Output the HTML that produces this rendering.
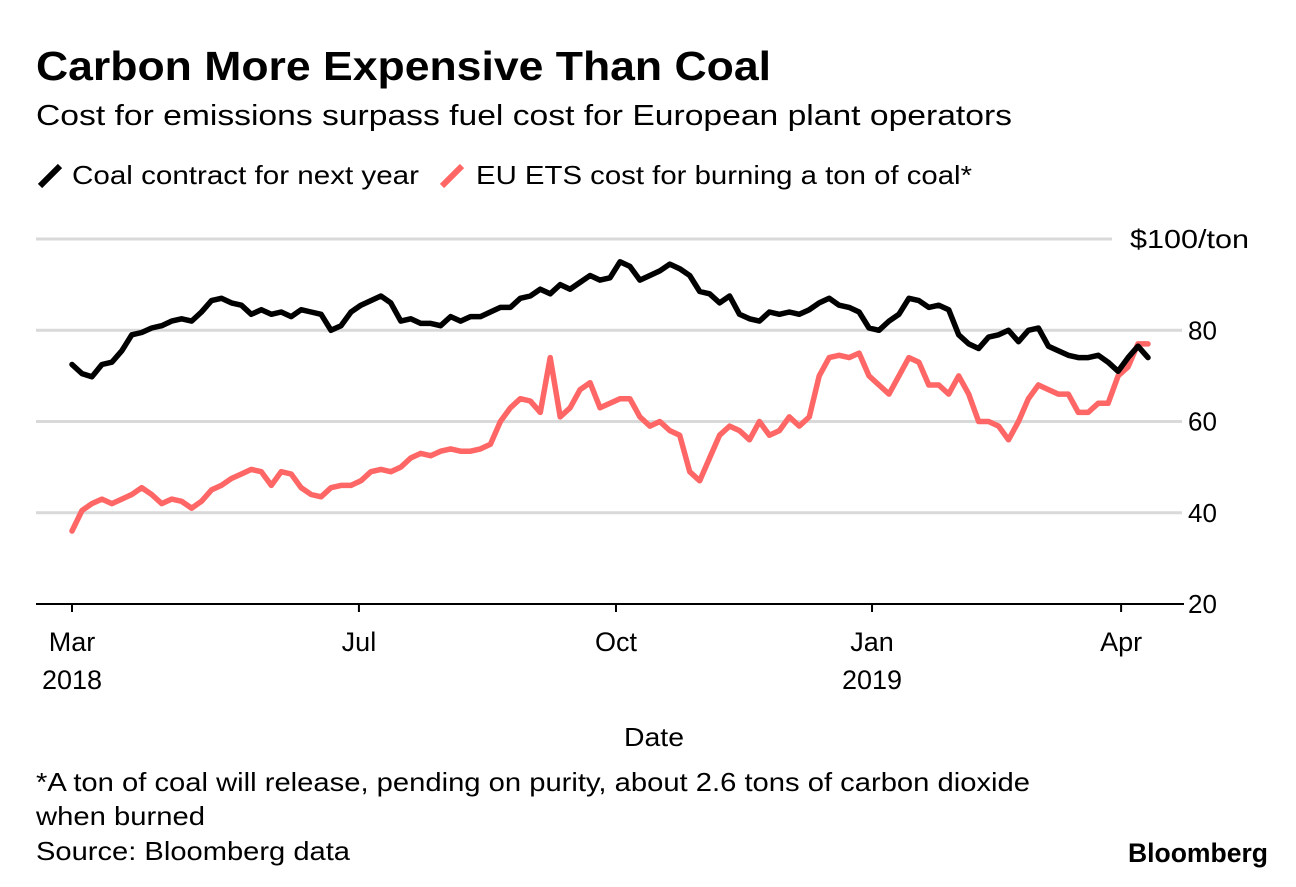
<!DOCTYPE html>
<html><head><meta charset="utf-8"><style>
body{margin:0;background:#fff;font-family:"Liberation Sans",Arial,sans-serif;}
svg text{font-family:"Liberation Sans",Arial,sans-serif;}
</style></head><body>
<svg width="1296" height="882" viewBox="0 0 1296 882">
<text x="36" y="80" font-size="41" font-weight="bold" fill="#000" textLength="735" lengthAdjust="spacingAndGlyphs">Carbon More Expensive Than Coal</text>
<text x="36" y="125" font-size="29" fill="#000" textLength="976" lengthAdjust="spacingAndGlyphs">Cost for emissions surpass fuel cost for European plant operators</text>
<g>
<line x1="40" y1="186" x2="60" y2="166" stroke="#000" stroke-width="6"/>
<text x="72" y="184" font-size="26" textLength="347" lengthAdjust="spacingAndGlyphs">Coal contract for next year</text>
<line x1="442" y1="186" x2="462" y2="166" stroke="#ff6666" stroke-width="6"/>
<text x="476" y="184" font-size="26" textLength="496" lengthAdjust="spacingAndGlyphs">EU ETS cost for burning a ton of coal*</text>
</g>
<g id="grid"></g><g id="ticks"></g><g id="series"></g>
<text x="624" y="746" font-size="26" textLength="60" lengthAdjust="spacingAndGlyphs">Date</text>
<text x="36" y="791" font-size="26" textLength="994" lengthAdjust="spacingAndGlyphs">*A ton of coal will release, pending on purity, about 2.6 tons of carbon dioxide</text>
<text x="36" y="825" font-size="26" textLength="169" lengthAdjust="spacingAndGlyphs">when burned</text>
<text x="36" y="860" font-size="26" textLength="314" lengthAdjust="spacingAndGlyphs">Source: Bloomberg data</text>
<text x="1128" y="862" font-size="27" font-weight="bold" textLength="140" lengthAdjust="spacingAndGlyphs">Bloomberg</text>
</svg>
<script>
const yTicks=[20,40,60,80,100];
const yTickLabels=["20","40","60","80","$100/ton"];
const xTickIdx=[0,28.8,54.6,80.3,105.3];
const xTickLabels=["Mar","Jul","Oct","Jan","Apr"];
const xTickYears=["2018","","","2019",""];
const coal=[72.5,70.5,69.8,72.5,73,75.5,79,79.5,80.5,81,82,82.5,82,84,86.5,87,86,85.5,83.5,84.5,83.5,84,83,84.5,84,83.5,80,81,84,85.5,86.5,87.5,86,82,82.5,81.5,81.5,81,83,82,83,83,84,85,85,87,87.5,89,88,90,89,90.5,92,91,91.5,95,94,91,92,93,94.5,93.5,92,88.5,88,86,87.5,83.5,82.5,82,84,83.5,84,83.5,84.5,86,87,85.5,85,84,80.5,80,82,83.5,87,86.5,85,85.5,84.5,79,77,76,78.5,79,80,77.5,80,80.5,76.5,75.5,74.5,74,74,74.5,73,71,74,76.5,74];
const ets=[36,40.5,42,43,42,43,44,45.5,44,42,43,42.5,41,42.5,45,46,47.5,48.5,49.5,49,46,49,48.5,45.5,44,43.5,45.5,46,46,47,49,49.5,49,50,52,53,52.5,53.5,54,53.5,53.5,54,55,60,63,65,64.5,62,74,61,63,67,68.5,63,64,65,65,61,59,60,58,57,49,47,52,57,59,58,56,60,57,58,61,59,61,70,74,74.5,74,75,70,68,66,70,74,73,68,68,66,70,66,60,60,59,56,60,65,68,67,66,66,62,62,64,64,70,72,77,77];
const NS="http://www.w3.org/2000/svg";
const X0=72,X1=1148,N=coal.length-1;
function xs(i){return X0+(X1-X0)*i/N;}
function ys(v){return 604-(v-20)*4.5625;}
function mk(t,a){const e=document.createElementNS(NS,t);for(const k in a)e.setAttribute(k,a[k]);return e;}
const grid=document.getElementById('grid');
yTicks.forEach((v,i)=>{
  const y=ys(v);
  if(v===20){
    const l=mk('line',{x1:36,x2:1184,y1:y,y2:y,stroke:'#000','stroke-width':2});
    
    
    grid.appendChild(l);
  }else{
    const l=mk('line',{x1:36,x2:v===100?1112:1182,y1:y,y2:y,stroke:'#d9d9d9','stroke-width':3});
    
    
    grid.appendChild(l);
  }
  const attrs={x:v===100?1130:1188,y:y+9,'font-size':26};
  if(v===100){attrs.textLength=119;attrs.lengthAdjust='spacingAndGlyphs';}
  const t=mk('text',attrs);
  t.textContent=yTickLabels[i];
  
  
  grid.appendChild(t);
});
const tk=document.getElementById('ticks');
xTickIdx.forEach((d,i)=>{
  const x=xs(d);
  const l=mk('line',{x1:x,x2:x,y1:604,y2:612,stroke:'#000','stroke-width':2});
  
  
  tk.appendChild(l);
  const t=mk('text',{x:x,y:651,'font-size':27,'text-anchor':'middle'});
  t.textContent=xTickLabels[i];
  
  
  tk.appendChild(t);
  if(xTickYears[i]){
    const t2=mk('text',{x:x,y:689,'font-size':27,'text-anchor':'middle'});
    t2.textContent=xTickYears[i];
    
    
    tk.appendChild(t2);
  }
});
const sg=document.getElementById('series');
function line(arr,color,name){
  const p=mk('path',{d:arr.map((v,i)=>(i?'L':'M')+xs(i).toFixed(1)+','+ys(v).toFixed(1)).join(''),fill:'none',stroke:color,'stroke-width':5.5,'stroke-linejoin':'round','stroke-linecap':'round'});
  
  
  sg.appendChild(p);
}
line(ets,'#ff6666','ets-cost-line');
line(coal,'#000','coal-price-line');
</script>
</body></html>
